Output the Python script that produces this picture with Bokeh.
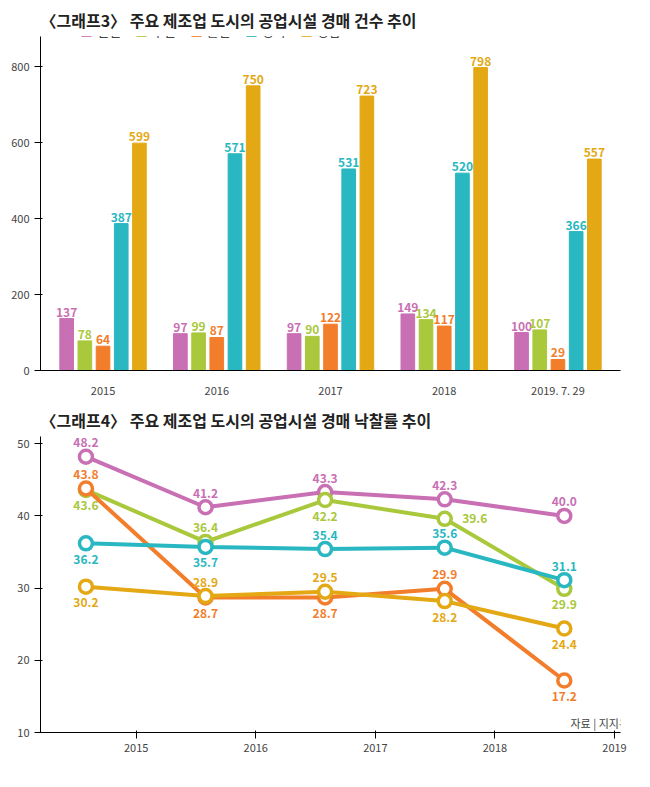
from bokeh.plotting import figure
from bokeh.layouts import column
from bokeh.models import ColumnDataSource, Label, Legend, LegendItem, FixedTicker
from bokeh.transform import dodge
from bokeh.embed import file_html
from bokeh.resources import INLINE

FONT = "Noto Sans CJK KR"
periods = ["2015", "2016", "2017", "2018", "2019. 7. 29"]
cities = ["인천", "부산", "울산", "경북", "경남"]
colors = ["#c96fb4", "#a9c83b", "#f27e2c", "#29b7c1", "#e3a814"]
counts = {
    "인천": [137, 97, 97, 149, 100],
    "부산": [78, 99, 90, 134, 107],
    "울산": [64, 87, 122, 117, 29],
    "경북": [387, 571, 531, 520, 366],
    "경남": [599, 750, 723, 798, 557],
}
years = [2015, 2016, 2017, 2018, 2019]
point_x = [2014.58, 2015.58, 2016.58, 2017.58, 2018.58]
rates = {
    "인천": [48.2, 41.2, 43.3, 42.3, 40.0],
    "부산": [43.6, 36.4, 42.2, 39.6, 29.9],
    "울산": [43.8, 28.7, 28.7, 29.9, 17.2],
    "경북": [36.2, 35.7, 35.4, 35.6, 31.1],
    "경남": [30.2, 28.9, 29.5, 28.2, 24.4],
}
rate_off = {
    "인천": [14, 14, 14, 14, 14],
    "부산": [-16, 14, -16, 0, -16],
    "울산": [14, -16, -16, 14, -16],
    "경북": [-16, -16, 14, 14, 14],
    "경남": [-16, 14, 14, -16, -16],
}
rate_xoff = {c: [0, 0, 0, 0, 0] for c in cities}
rate_xoff["부산"] = [0, 0, 0, 30, 0]

src = dict(period=periods)
for c in cities:
    src[c] = counts[c]
source = ColumnDataSource(src)

p1 = figure(x_range=periods, y_range=(0, 880), width=634, height=400,
            output_backend="svg", toolbar_location=None,
            min_border_left=40, min_border_right=14, min_border_top=6)
p1.title.text = "〈그래프3〉 주요 제조업 도시의 공업시설 경매 건수 추이"
p1.title.text_font = FONT
p1.title.text_font_size = "16px"
p1.title.text_font_style = "bold"
p1.title.text_color = "#222222"
offs = [-0.32, -0.16, 0.0, 0.16, 0.32]
items = []
for c, col, o in zip(cities, colors, offs):
    r = p1.vbar(x=dodge("period", o, range=p1.x_range), top=c, width=0.12,
                source=source, color=col)
    items.append(LegendItem(label=c, renderers=[r]))
    p1.text(x=dodge("period", o, range=p1.x_range), y=c, text=c, source=source,
            text_align="center", text_baseline="bottom", y_offset=-2,
            text_color=col, text_font_size="12px", text_font_style="bold",
            text_font={"value": FONT})
leg = Legend(items=items, orientation="horizontal", location="top_left",
             label_text_font=FONT, label_text_font_size="13px",
             glyph_width=12, glyph_height=12, spacing=14, border_line_color=None,
             background_fill_alpha=0, margin=2, padding=0)
p1.add_layout(leg)
leg.location = (40, 330)
p1.yaxis.ticker = FixedTicker(ticks=[0, 200, 400, 600, 800])
p1.xgrid.visible = False
p1.ygrid.visible = False
p1.outline_line_color = None
p1.axis.major_label_text_font_size = "11px"
p1.axis.major_label_text_font = FONT
p1.xaxis.major_tick_line_color = None
p1.axis.minor_tick_line_color = None
p1.x_range.range_padding = 0.02
p1.add_layout(Label(x=540, y=345, x_units="screen", y_units="screen", text="(단위 : 건)",
                    text_font=FONT, text_font_size="11px", text_align="left"))

p2 = figure(x_range=(2014.2, 2019.05), y_range=(10, 51), width=634, height=372,
            output_backend="svg", toolbar_location=None,
            min_border_left=40, min_border_right=14, min_border_top=6,
            min_border_bottom=40)
p2.title.text = "〈그래프4〉 주요 제조업 도시의 공업시설 경매 낙찰률 추이"
p2.title.text_font = FONT
p2.title.text_font_size = "16px"
p2.title.text_font_style = "bold"
p2.title.text_color = "#222222"
for c, col in zip(cities, colors):
    s = ColumnDataSource(dict(x=point_x, y=rates[c], t=[f"{v:.1f}" for v in rates[c]],
                              yo=[-o for o in rate_off[c]], xo=rate_xoff[c]))
    p2.line("x", "y", source=s, color=col, line_width=4)
    p2.scatter("x", "y", source=s, size=13, fill_color="white", line_color=col, line_width=3.5)
    p2.text("x", "y", text="t", source=s, y_offset="yo", x_offset="xo", text_align="center",
            text_baseline="middle", text_color=col, text_font_size="12px",
            text_font_style="bold", text_font={"value": FONT})
p2.xaxis.ticker = FixedTicker(ticks=years)
p2.yaxis.ticker = FixedTicker(ticks=[10, 20, 30, 40, 50])
p2.xgrid.visible = False
p2.ygrid.visible = False
p2.outline_line_color = None
p2.axis.major_label_text_font_size = "11px"
p2.axis.major_label_text_font = FONT
p2.axis.minor_tick_line_color = None
p2.add_layout(Label(x=540, y=325, x_units="screen", y_units="screen", text="(단위 : %)",
                    text_font=FONT, text_font_size="11px", text_align="left"))
p2.add_layout(Label(x=530, y=2, x_units="screen", y_units="screen", text="자료 | 지지옥션",
                    text_font=FONT, text_font_size="11px", text_align="left"))

layout = column(p1, p2, spacing=0)
open("out.html", "w").write(file_html(layout, INLINE))
